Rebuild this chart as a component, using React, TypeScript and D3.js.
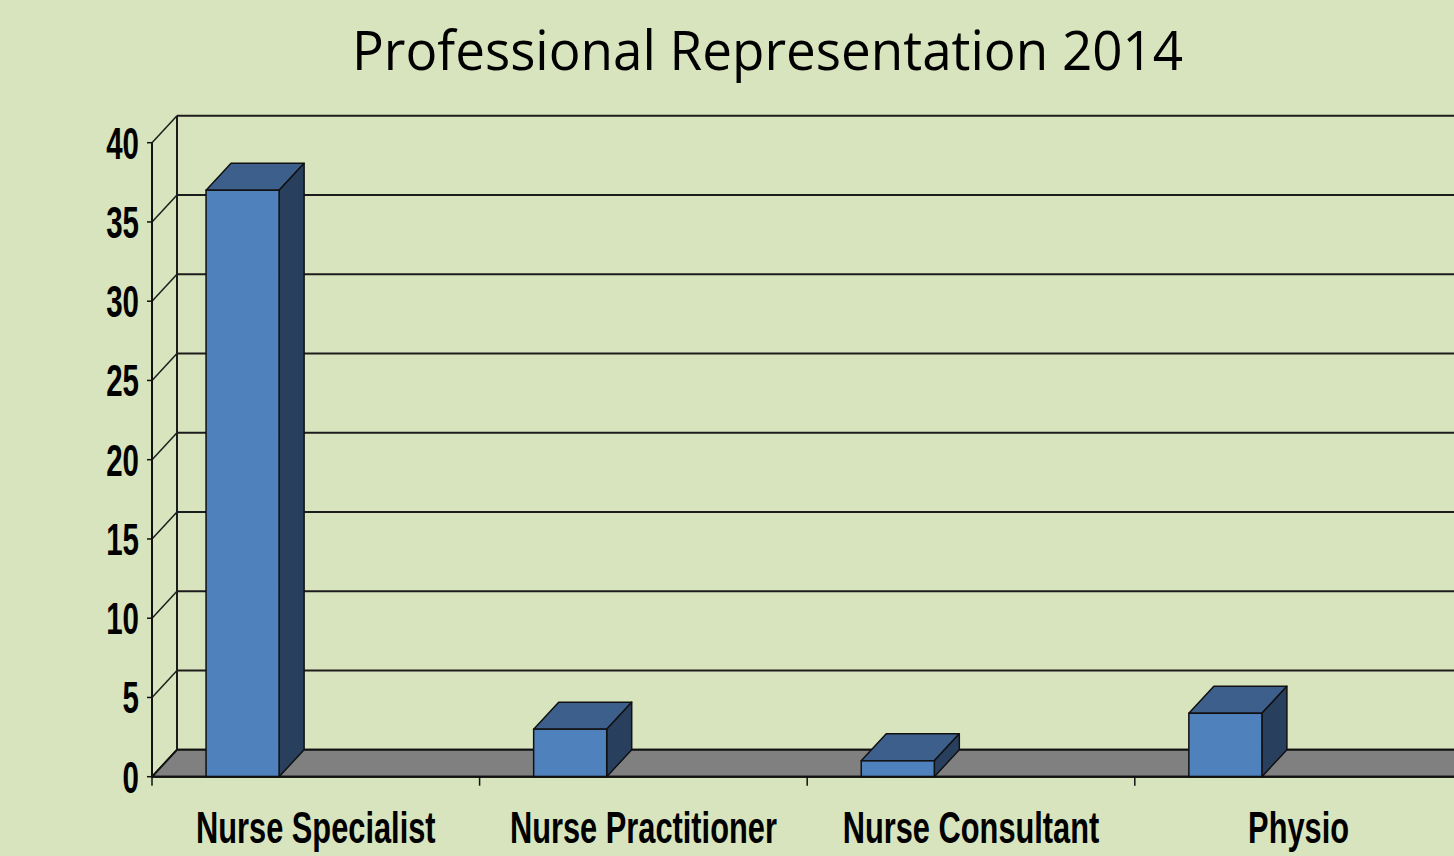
import React from "react";
import * as d3 from "d3";

const categories = ["Nurse Specialist", "Nurse Practitioner", "Nurse Consultant", "Physio"];
const values = [37, 3, 1, 4];
const yTicks = [0, 5, 10, 15, 20, 25, 30, 35, 40];
const title = "Professional Representation 2014";

const W = 1454;
const H = 856;
const DX = 25;
const DY = -27;

export default function App() {
  const y = d3.scaleLinear().domain([0, 40]).range([776.7, 142.7]);
  const x = d3.scaleBand<string>().domain(categories).range([152, 1462.4]).paddingInner(0).paddingOuter(0);
  const bw = x.bandwidth();
  const barOff = bw * 0.165;
  const barW = bw * 0.223;
  const x0 = 152;
  const xEnd = 1500;
  const y0 = y(0);

  const floor = [
    [x0, y0],
    [x0 + DX, y0 + DY],
    [xEnd + DX, y0 + DY],
    [xEnd, y0],
  ];
  const line = d3.line();
  const labelFont = "'Liberation Sans Narrow', 'Arial Narrow', 'Liberation Sans', Arial, sans-serif";

  return (
    <svg
      width={W}
      height={H}
      style={{ position: "absolute", left: 0, top: 0, background: "#d8e4bd" }}
    >
      <rect x={0} y={0} width={W} height={H} fill="#d8e4bd" />
      <text
        x={767.5}
        y={70}
        textAnchor="middle"
        fontFamily="'Open Sans', 'Noto Sans', sans-serif"
        fontSize={55}
        textLength={831}
        lengthAdjust="spacingAndGlyphs"
        fill="#000"
      >
        {title}
      </text>

      {/* back wall gridlines */}
      {yTicks.map((t) => (
        <g key={"g" + t}>
          <line x1={x0 + DX} x2={xEnd} y1={y(t) + DY} y2={y(t) + DY} stroke="#1c1c1c" strokeWidth={2} />
          <line x1={x0} x2={x0 + DX} y1={y(t)} y2={y(t) + DY} stroke="#1c1c1c" strokeWidth={1.5} />
        </g>
      ))}
      <line x1={x0 + DX} x2={x0 + DX} y1={y(40) + DY} y2={y(0) + DY} stroke="#1c1c1c" strokeWidth={2} />

      {/* floor */}
      <path d={line(floor as [number, number][]) + "Z"} fill="#808080" stroke="#111" strokeWidth={2} strokeLinejoin="round" />

      {/* bars */}
      {categories.map((c, i) => {
        const left = (x(c) as number) + barOff;
        const right = left + barW;
        const top = y(values[i]);
        const topFace: [number, number][] = [
          [left, top],
          [left + DX, top + DY],
          [right + DX, top + DY],
          [right, top],
        ];
        const side: [number, number][] = [
          [right, top],
          [right + DX, top + DY],
          [right + DX, y0 + DY],
          [right, y0],
        ];
        return (
          <g key={c}>
            <path d={line(topFace) + "Z"} fill="#3c5f8c" stroke="#111" strokeWidth={1.5} strokeLinejoin="round" />
            <path d={line(side) + "Z"} fill="#283f5e" stroke="#111" strokeWidth={1.5} strokeLinejoin="round" />
            <rect x={left} y={top} width={barW} height={y0 - top} fill="#4f81bd" stroke="#111" strokeWidth={1.5} />
          </g>
        );
      })}

      {/* front axes */}
      <line x1={x0} x2={x0} y1={y(40)} y2={y0} stroke="#111" strokeWidth={2} />
      <line x1={x0} x2={xEnd} y1={y0} y2={y0} stroke="#111" strokeWidth={2} />
      {yTicks.map((t) => (
        <g key={"t" + t}>
          <line x1={x0 - 5} x2={x0} y1={y(t)} y2={y(t)} stroke="#111" strokeWidth={1.5} />
          <text
            transform={`translate(139,${y(t) + 16}) scale(0.67,1)`}
            textAnchor="end"
            fontFamily={labelFont}
            fontWeight="bold"
            fontSize={44}
            fill="#000"
          >
            {t}
          </text>
        </g>
      ))}
      {[...categories.map((c) => x(c) as number), 1462.4].map((v, i) => (
        <line key={"ct" + i} x1={v} x2={v} y1={y0} y2={y0 + 9} stroke="#111" strokeWidth={1.5} />
      ))}
      {categories.map((c) => (
        <text
          key={"l" + c}
          transform={`translate(${(x(c) as number) + bw / 2},843) scale(0.7,1)`}
          textAnchor="middle"
          fontFamily={labelFont}
          fontWeight="bold"
          fontSize={44}
          fill="#000"
        >
          {c}
        </text>
      ))}
    </svg>
  );
}
